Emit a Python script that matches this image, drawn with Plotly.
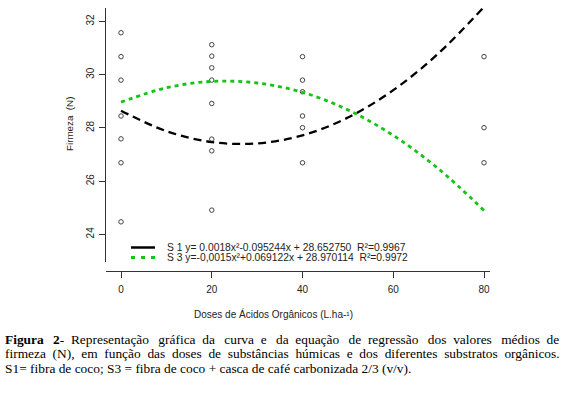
import plotly.graph_objects as go

# ---------------- data ----------------
obs_dose = [0, 0, 0, 0, 0, 0, 0,
            20, 20, 20, 20, 20, 20, 20, 20,
            40, 40, 40, 40, 40, 40,
            80, 80, 80]
obs_firmeza = [31.58, 30.68, 29.80, 28.45, 27.59, 26.69, 24.47,
               31.13, 30.70, 30.26, 29.80, 28.92, 27.58, 27.14, 24.91,
               30.68, 29.80, 29.36, 28.45, 28.01, 26.69,
               30.68, 28.01, 26.69]

curve_dose = [0, 10, 20, 30, 40, 50, 60, 70, 80]
s1_fit = [28.65, 27.88, 27.47, 27.42, 27.72, 28.39, 29.42, 30.81, 32.55]
s3_fit = [28.97, 29.51, 29.75, 29.69, 29.34, 28.68, 27.72, 26.46, 24.90]

x_ticks = [0, 20, 40, 60, 80]
y_ticks = [24, 26, 28, 30, 32]

legend_labels = [
    "S 1 y= 0.0018x²-0.095244x + 28.652750  R²=0.9967",
    "S 3 y=-0,0015x²+0.069122x + 28.970114  R²=0.9972",
]
x_title = "Doses de Ácidos Orgânicos (L.ha-¹)"
y_title = "Firmeza  (N)"
caption_lines = [
    "<b>Figura 2</b>- Representação gráfica da curva e da equação de regressão dos valores médios de",
    "firmeza (N), em função das doses de substâncias húmicas e dos diferentes substratos orgânicos.",
    "S1= fibra de coco; S3 = fibra de coco + casca de café carbonizada 2/3 (v/v).",
]

# ---------------- layout geometry ----------------
W, H = 574, 393
ML, MR, MT, MB = 106, 84, 8, 122
PW, PH = W - ML - MR, H - MT - MB
GREEN = "#14c414"
TXT = "#222222"
SANS = "Liberation Sans, Arial, sans-serif"
NB = "\u00a0"
THIN = "\u2009"
CAPTION_Y = [339.3, 353.3, 368.6]


def px(xp):
    return (xp - ML) / PW


def py(yp):
    return (H - MB - yp) / PH


def justify(line, extra_every=0):
    # widen word gaps to imitate the justified caption lines
    parts = line.split(" ")
    out = parts[0]
    for k, p in enumerate(parts[1:]):
        gap = " " + NB
        if extra_every and k % extra_every == 0:
            gap += THIN
        out += gap + p
    return out


fig = go.Figure()

fig.add_trace(go.Scatter(
    x=obs_dose, y=obs_firmeza, mode="markers",
    marker=dict(symbol="circle-open", size=4.5, color="#444444",
                line=dict(width=1, color="#444444")),
    showlegend=False, hoverinfo="skip"))

fig.add_trace(go.Scatter(
    x=curve_dose, y=s1_fit, mode="lines", line_shape="spline",
    line=dict(color="black", width=2.3, dash="8px,5px"),
    showlegend=False))

fig.add_trace(go.Scatter(
    x=curve_dose, y=s3_fit, mode="lines", line_shape="spline",
    line=dict(color=GREEN, width=2.8, dash="4px,4px"),
    showlegend=False))

fig.update_layout(
    width=W, height=H,
    margin=dict(l=ML, r=MR, t=MT, b=MB, pad=0),
    paper_bgcolor="white", plot_bgcolor="white",
    font=dict(family=SANS, color=TXT, size=10),
    showlegend=False,
    xaxis=dict(
        range=[-3.31, 81.32], domain=[0, 1], anchor="free", position=0,
        tickvals=x_ticks, ticks="outside", ticklen=6, tickwidth=1,
        tickcolor="#333333", showline=True, linecolor="#333333", linewidth=1,
        showgrid=False, zeroline=False, ticklabelstandoff=3,
        tickfont=dict(size=10, color=TXT, family=SANS),
    ),
    yaxis=dict(
        range=[22.96, 32.51], domain=[9 / PH, 1], anchor="x",
        tickvals=y_ticks, ticks="outside", ticklen=6, tickwidth=1,
        tickcolor="#333333", showline=True, linecolor="#333333", linewidth=1,
        showgrid=False, zeroline=False, tickangle=-90, ticklabelstandoff=1,
        tickfont=dict(size=10, color=TXT, family=SANS),
    ),
)

annotations = []
# axis titles
annotations.append(dict(xref="paper", yref="paper", x=px(273), y=py(314),
                        text=x_title, showarrow=False, xanchor="center", yanchor="middle",
                        font=dict(size=10, color=TXT, family=SANS)))
annotations.append(dict(xref="paper", yref="paper", x=px(69), y=py(124),
                        text=y_title, showarrow=False, textangle=-90,
                        xanchor="center", yanchor="middle",
                        font=dict(size=9.8, color=TXT, family=SANS)))
# legend text
for i, lab in enumerate(legend_labels):
    annotations.append(dict(xref="paper", yref="paper", x=px(165), y=py(247.5 + 10 * i),
                            text=lab, showarrow=False, xanchor="left", yanchor="middle",
                            font=dict(size=10.3, color=TXT, family=SANS)))
# caption
for i, line in enumerate(caption_lines):
    if i == 0:
        txt = justify(line, extra_every=2)
    elif i == 1:
        txt = justify(line)
    else:
        txt = line
    annotations.append(dict(xref="paper", yref="paper", x=px(3), y=py(CAPTION_Y[i]),
                            text=txt, showarrow=False, xanchor="left", yanchor="middle",
                            font=dict(size=13.4, color="black",
                                      family="Liberation Serif, Times New Roman, serif")))
fig.update_layout(annotations=annotations)

# legend line samples
fig.add_shape(type="line", xref="paper", yref="paper",
              x0=px(131), x1=px(155), y0=py(247.5), y1=py(247.5),
              line=dict(color="black", width=2.5))
fig.add_shape(type="line", xref="paper", yref="paper",
              x0=px(131), x1=px(156), y0=py(257.5), y1=py(257.5),
              line=dict(color=GREEN, width=3, dash="4px,6px"))

fig.write_html("out.html", config={"displayModeBar": False},
               post_script="document.body.style.margin='0';document.body.style.padding='0';")
